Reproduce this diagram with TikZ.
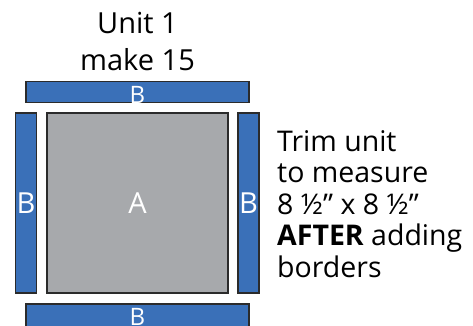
\documentclass[tikz,border=0pt]{standalone}
\usepackage{fontspec}
\setmainfont{Open Sans}
\usepackage{tikz}
\definecolor{stripblue}{HTML}{3A70B8}
\definecolor{blockgray}{HTML}{A7A9AC}
\definecolor{edgegray}{HTML}{2B2B2B}
\tikzset{
   strip/.style={rectangle,draw=edgegray,line width=1.1pt,fill=stripblue,inner sep=0pt},
   block/.style={rectangle,draw=edgegray,line width=1.1pt,fill=blockgray,inner sep=0pt},
   piece/.style={text=white,inner sep=0pt,font=\fontsize{29}{29}\selectfont},
   title/.style={align=center,inner sep=0pt,font=\fontsize{29}{37}\selectfont},
   note/.style={align=left,inner sep=0pt,font=\fontsize{28.5}{31.5}\selectfont}
}

\begin{document}
\begin{tikzpicture}[x=1pt,y=-1pt]
\useasboundingbox (0,0) rectangle (473,325);
\clip (0,0) rectangle (473,325);
\path (137.5,70) node[title,anchor=base] (unit) {Unit 1\\make 15};
% strips and centre square
\path (137.5,92) node[strip,minimum width=223pt,minimum height=21pt] (top) {};
\path (137.5,315.5) node[strip,minimum width=223pt,minimum height=23pt] (bottom) {};
\path (26,203) node[strip,minimum width=21pt,minimum height=180pt] (left) {};
\path (248.5,203) node[strip,minimum width=21pt,minimum height=180pt] (right) {};
\path (137.5,203) node[block,minimum width=181pt,minimum height=180pt] (sq) {};
\path (137.5,103) node[piece,anchor=base,font=\fontsize{24}{24}\selectfont] (topB) {B};
\path (137.5,325) node[piece,anchor=base,font=\fontsize{24}{24}\selectfont] (botB) {B};
\path (left.center) node[piece] (leftB) {B};
\path (right.center) node[piece] (rightB) {B};
\path (sq.center) node[piece] (sqA) {A};
\path (277,277) node[note,anchor=base west] (trim) {Trim unit\\to measure\\8 ½” x 8 ½”\\\textbf{AFTER} adding\\borders};
\end{tikzpicture}
\end{document}
